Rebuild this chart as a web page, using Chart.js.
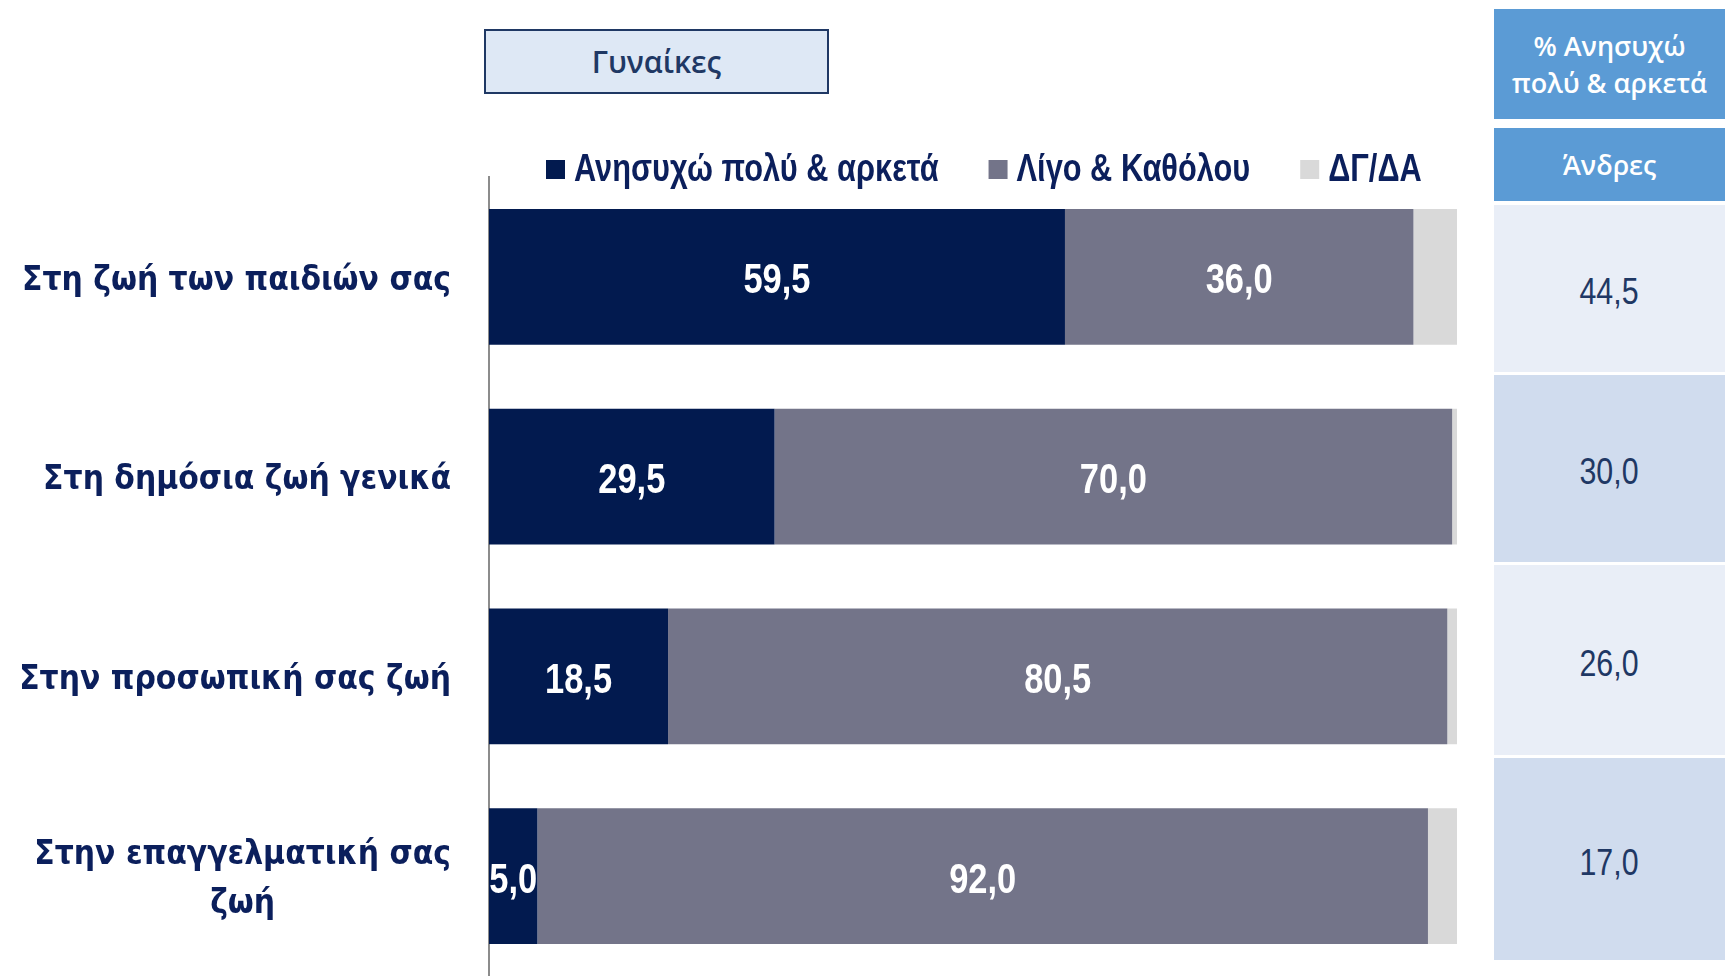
<!DOCTYPE html>
<html>
<head>
<meta charset="utf-8">
<script src="https://cdn.jsdelivr.net/npm/chart.js@4.4.0/dist/chart.umd.min.js"></script>
<style>
  body{margin:0;width:1725px;height:976px;background:#fff;overflow:hidden;position:relative;}
  #chart{position:absolute;left:0;top:0;}
  #title-box{position:absolute;left:484px;top:29px;width:341px;height:61px;border:2px solid #1F3864;background:#DEE8F5;
    color:#1F3864;font:600 30px "Open Sans",sans-serif;display:flex;align-items:center;justify-content:center;}
  .side{position:absolute;left:1494px;width:231px;display:flex;align-items:center;justify-content:center;text-align:center;}
  .head{background:#5B9BD5;color:#fff;font:600 27px "Open Sans",sans-serif;line-height:37px;}
  .cell{color:#1F3864;font:37px "Liberation Sans",Arial,sans-serif;padding-top:7px;box-sizing:border-box;}
  .cell span{display:inline-block;transform:scaleX(0.82);}
</style>
</head>
<body>
<canvas id="chart" width="1725" height="976"></canvas>
<div id="title-box">Γυναίκες</div>
<div id="side"></div>
<script>
// --- Data ---
const categories = [
  'Στη ζωή των παιδιών σας',
  'Στη δημόσια ζωή γενικά',
  'Στην προσωπική σας ζωή',
  ['Στην επαγγελματική σας', 'ζωή']
];
const seriesNames = ['Ανησυχώ πολύ & αρκετά', 'Λίγο & Καθόλου', 'ΔΓ/ΔΑ'];
const worried = [59.5, 29.5, 18.5, 5.0];
const notWorried = [36.0, 70.0, 80.5, 92.0];
const dkna = [4.5, 0.5, 1.0, 3.0];
const menTitle = ['% Ανησυχώ', 'πολύ & αρκετά'];
const menLabel = 'Άνδρες';
const menWorried = [44.5, 30.0, 26.0, 17.0];

const colors = ['#021A4F', '#737489', '#D9D9D9'];
const navy = '#0B1F5C';

function fmt(v){ return v.toFixed(1).replace('.', ','); }

// draw text squeezed horizontally (no narrow font installed)
function squeezedText(c, txt, x, y, sx, align){
  const w = c.measureText(txt).width * sx;
  let left = x;
  if(align==='center') left = x - w/2;
  else if(align==='right') left = x - w;
  c.save();
  c.translate(left, y);
  c.scale(sx, 1);
  c.textAlign = 'left';
  c.fillText(txt, 0, 0);
  c.restore();
  return w;
}

// --- Side table for men ---
const side = document.getElementById('side');
function addBox(cls, top, height, html, bg){
  const d = document.createElement('div');
  d.className = 'side ' + cls;
  d.style.top = top+'px'; d.style.height = height+'px';
  if(bg) d.style.background = bg;
  d.innerHTML = html;
  side.appendChild(d);
}
addBox('head', 9, 110, menTitle.join('<br>'));
addBox('head', 128, 73, menLabel);
const rowTops = [205, 375, 565, 758];
const rowHeights = [167, 187, 190, 202];
menWorried.forEach((v,i)=>{
  addBox('cell', rowTops[i], rowHeights[i], '<span>'+fmt(v)+'</span>', i%2===0 ? '#E9EEF7' : '#D0DCEE');
});

// --- Plugins ---
const barLabels = {
  id:'barLabels',
  afterDatasetsDraw(chart){
    const c = chart.ctx;
    c.save();
    c.fillStyle = '#fff';
    c.font = 'bold 42px "Liberation Sans", Arial, sans-serif';
    c.textBaseline = 'middle';
    [0,1].forEach(di=>{
      const meta = chart.getDatasetMeta(di);
      meta.data.forEach((bar,i)=>{
        const v = chart.data.datasets[di].data[i];
        squeezedText(c, fmt(v), (bar.x + bar.base)/2, bar.y + 5, 0.82, 'center');
      });
    });
    c.restore();
  }
};

const catLabels = {
  id:'catLabels',
  afterDraw(chart){
    const c = chart.ctx;
    const yScale = chart.scales.y;
    const right = chart.chartArea.left - 38;
    const sx = 0.88;
    c.save();
    c.fillStyle = navy;
    c.font = 'bold 34px "DejaVu Sans", sans-serif';
    c.textBaseline = 'middle';
    categories.forEach((lab,i)=>{
      const lines = Array.isArray(lab) ? lab : [lab];
      const y = yScale.getPixelForValue(i) + 4;
      const lh = 49;
      const maxW = Math.max(...lines.map(l=>c.measureText(l).width)) * sx;
      lines.forEach((l,k)=>{
        squeezedText(c, l, right - maxW/2, y + (k - (lines.length-1)/2)*lh, sx, 'center');
      });
    });
    c.restore();
  }
};

const topLegend = {
  id:'topLegend',
  afterDraw(chart){
    const c = chart.ctx;
    const y = 170;
    let x = 546;
    c.save();
    c.font = 'bold 38px "Liberation Sans", Arial, sans-serif';
    c.textBaseline = 'middle';
    chart.data.datasets.forEach(ds=>{
      c.fillStyle = ds.backgroundColor;
      c.fillRect(x, y-10, 19, 19);
      x += 28;
      c.fillStyle = navy;
      x += squeezedText(c, ds.label, x, y + 1, 0.81, 'left');
      x += 50;
    });
    c.restore();
  }
};

// --- Chart ---
new Chart(document.getElementById('chart').getContext('2d'), {
  type:'bar',
  data:{
    labels: categories,
    datasets:[
      {label:seriesNames[0], data:worried, backgroundColor:colors[0]},
      {label:seriesNames[1], data:notWorried, backgroundColor:colors[1]},
      {label:seriesNames[2], data:dkna, backgroundColor:colors[2]}
    ]
  },
  options:{
    indexAxis:'y',
    responsive:false,
    animation:false,
    layout:{padding:{left:489, top:177, right:268, bottom:0}},
    datasets:{bar:{categoryPercentage:1, barPercentage:0.68, borderWidth:0}},
    plugins:{legend:{display:false}, tooltip:{enabled:false}},
    scales:{
      x:{stacked:true, min:0, max:100, display:false},
      y:{stacked:true, grid:{display:false, drawTicks:false}, ticks:{display:false},
         border:{display:true, color:'#8C8C8C', width:2}}
    }
  },
  plugins:[barLabels, catLabels, topLegend]
});
</script>
</body>
</html>
